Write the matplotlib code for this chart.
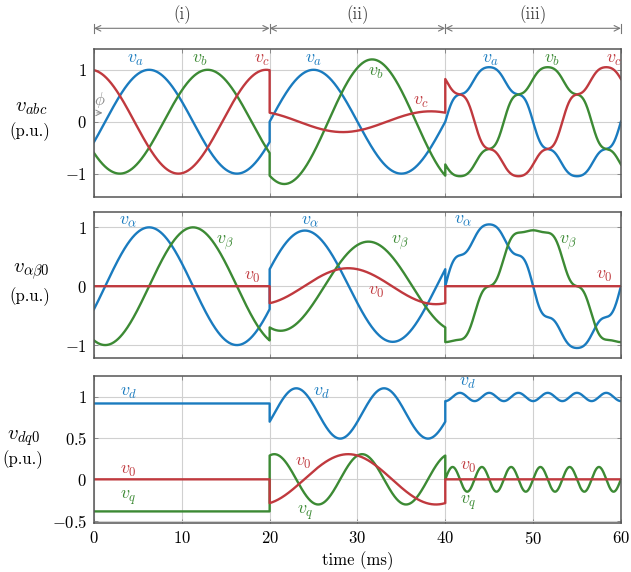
import numpy as np
import matplotlib
matplotlib.use('Agg')
import matplotlib.pyplot as plt

plt.rcParams['font.family'] = 'cmr10'
plt.rcParams['mathtext.fontset'] = 'cm'
plt.rcParams['axes.unicode_minus'] = False

# grid frequency and the three test intervals (ms)
f_grid = 50.0
seg_start = [0, 20, 40]
seg_end = [20, 40, 60]
seg_names = ['(i)', '(ii)', '(iii)']

# phase a, b, c: amplitude (p.u.) per interval
amp_abc = [[1.0, 1.0, 1.0],
           [1.0, 1.2, 0.2],
           [1.0, 1.0, 1.0]]
phase_shift = [0.0, -2 * np.pi / 3, 2 * np.pi / 3]
# angle offset phi per interval (rad)
phi_seg = [0.4, 0.0, 0.0]
# harmonic content per interval (orders 5 and 7)
harm_order = [5, 7]
harm_amp = [[0.0, 0.0],
            [0.0, 0.0],
            [0.1, 0.05]]

blue = '#1a7bbf'
red = '#c0393e'
green = '#3c8a34'
grid_col = '#d0d0d0'
frame_col = '#555555'

# build abc signals interval by interval
t_parts, abc_parts = [], []
for k in range(3):
    t = np.linspace(seg_start[k], seg_end[k], 600)
    th = 2 * np.pi * f_grid * t / 1000.0 - phi_seg[k]
    sig = []
    for p in range(3):
        x = th + phase_shift[p]
        v = amp_abc[k][p] * np.sin(x)
        for h, a in zip(harm_order, harm_amp[k]):
            v = v + a * np.sin(h * x)
        sig.append(v)
    t_parts.append(t)
    abc_parts.append(np.array(sig))
t = np.concatenate(t_parts)
va, vb, vc = np.concatenate(abc_parts, axis=1)

# Clarke (amplitude invariant)
v_al = 2.0 / 3.0 * (va - 0.5 * vb - 0.5 * vc)
v_be = (vb - vc) / np.sqrt(3)
v_0 = (va + vb + vc) / 3.0

# Park
thp = 2 * np.pi * f_grid * t / 1000.0 - np.pi / 2
v_d = v_al * np.cos(thp) + v_be * np.sin(thp)
v_q = -v_al * np.sin(thp) + v_be * np.cos(thp)

fig = plt.figure(figsize=(6.31, 5.72), dpi=100)
ax1 = fig.add_axes([0.149, 0.6556, 0.835, 0.2587])
ax2 = fig.add_axes([0.149, 0.3741, 0.835, 0.2552])
ax3 = fig.add_axes([0.149, 0.0857, 0.835, 0.2570])

lw = 1.7
ax1.plot(t, va, color=blue, lw=lw)
ax1.plot(t, vb, color=green, lw=lw)
ax1.plot(t, vc, color=red, lw=lw)

ax2.plot(t, v_al, color=blue, lw=lw)
ax2.plot(t, v_be, color=green, lw=lw)
ax2.plot(t, v_0, color=red, lw=lw)

ax3.plot(t, v_d, color=blue, lw=lw)
ax3.plot(t, v_q, color=green, lw=lw)
ax3.plot(t, v_0, color=red, lw=lw)

ylims = [(-1.45, 1.4), (-1.22, 1.26), (-0.53, 1.255)]
yticks = [[-1, 0, 1], [-1, 0, 1], [-0.5, 0, 0.5, 1]]
ylabels = [r'$-1$', r'$0$', r'$1$']
for ax, yl, yt in zip([ax1, ax2, ax3], ylims, yticks):
    ax.set_xlim(0, 60)
    ax.set_ylim(*yl)
    ax.set_xticks([0, 10, 20, 30, 40, 50, 60])
    ax.set_yticks(yt)
    ax.grid(True, color=grid_col, lw=0.8)
    ax.set_axisbelow(True)
    for s in ax.spines.values():
        s.set_color(frame_col)
        s.set_linewidth(1.1)
    ax.tick_params(direction='in', length=3, width=0.7, color='#888888',
                   top=True, right=True, labelsize=12, pad=5)

ax1.set_yticklabels(ylabels)
ax2.set_yticklabels(ylabels)
ax3.set_yticklabels([r'$-0.5$', r'$0$', r'$0.5$', r'$1$'])
ax1.set_xticklabels([])
ax2.set_xticklabels([])
ax3.set_xticklabels([r'$%d$' % v for v in [0, 10, 20, 30, 40, 50, 60]])
ax3.set_xlabel('time (ms)', fontsize=12, labelpad=3)

# curve labels
fs = 13
lab1 = [(4.7, 1.19, r'$v_a$', blue), (12.1, 1.19, r'$v_b$', green),
        (19.1, 1.19, r'$v_c$', red), (25.0, 1.19, r'$v_a$', blue),
        (32.1, 0.94, r'$v_b$', green), (37.2, 0.38, r'$v_c$', red),
        (45.1, 1.19, r'$v_a$', blue), (52.2, 1.19, r'$v_b$', green),
        (59.2, 1.19, r'$v_c$', red)]
lab2 = [(3.9, 1.11, r'$v_\alpha$', blue), (14.9, 0.74, r'$v_\beta$', green),
        (18.0, 0.15, r'$v_0$', red), (24.6, 1.11, r'$v_\alpha$', blue),
        (34.9, 0.74, r'$v_\beta$', green), (32.1, -0.1, r'$v_0$', red),
        (42.0, 1.12, r'$v_\alpha$', blue), (54.0, 0.74, r'$v_\beta$', green),
        (58.1, 0.16, r'$v_0$', red)]
lab3 = [(3.9, 1.05, r'$v_d$', blue), (3.9, 0.10, r'$v_0$', red),
        (3.9, -0.23, r'$v_q$', green), (25.9, 1.04, r'$v_d$', blue),
        (23.8, 0.19, r'$v_0$', red), (24.0, -0.41, r'$v_q$', green),
        (42.6, 1.17, r'$v_d$', blue), (42.6, 0.15, r'$v_0$', red),
        (42.6, -0.28, r'$v_q$', green)]
for ax, labs in zip([ax1, ax2, ax3], [lab1, lab2, lab3]):
    for x, y, s, c in labs:
        ax.text(x, y, s, color=c, fontsize=fs, ha='center', va='center')

# phi marker
phi_t = phi_seg[0] / (2 * np.pi * f_grid) * 1000.0
ax1.annotate('', xy=(phi_t, 0.17), xytext=(0, 0.17),
             arrowprops=dict(arrowstyle='->', color='#888888', lw=0.7))
ax1.text(0.7, 0.42, r'$\phi$', color='#888888', fontsize=12,
         ha='center', va='center')

# interval arrows above the top panel
for a, b, name in zip(seg_start, seg_end, seg_names):
    ax1.annotate('', xy=(b, 1.14), xytext=(a, 1.14),
                 xycoords=('data', 'axes fraction'),
                 arrowprops=dict(arrowstyle='<->', color='#777777', lw=0.8,
                                 shrinkA=0, shrinkB=0),
                 annotation_clip=False)
    ax1.text((a + b) / 2, 1.235, name, transform=ax1.get_xaxis_transform(),
             fontsize=12, ha='center', va='center', color='#444444')
for x in seg_start + [seg_end[-1]]:
    ax1.plot([x, x], [1.11, 1.17], color='#777777', lw=0.8,
             transform=ax1.get_xaxis_transform(), clip_on=False)

# y axis labels
fig.text(31 / 631, 1 - 108 / 572, r'$v_{abc}$', fontsize=15, ha='center', va='center')
fig.text(30 / 631, 1 - 132 / 572, '(p.u.)', fontsize=12, ha='center', va='center')
fig.text(31 / 631, 1 - 272 / 572, r'$v_{\alpha\beta 0}$', fontsize=15, ha='center', va='center')
fig.text(30 / 631, 1 - 297 / 572, '(p.u.)', fontsize=12, ha='center', va='center')
fig.text(23 / 631, 1 - 438 / 572, r'$v_{dq0}$', fontsize=15, ha='center', va='center')
fig.text(23 / 631, 1 - 460 / 572, '(p.u.)', fontsize=12, ha='center', va='center')

fig.savefig('out.png', dpi=100)
